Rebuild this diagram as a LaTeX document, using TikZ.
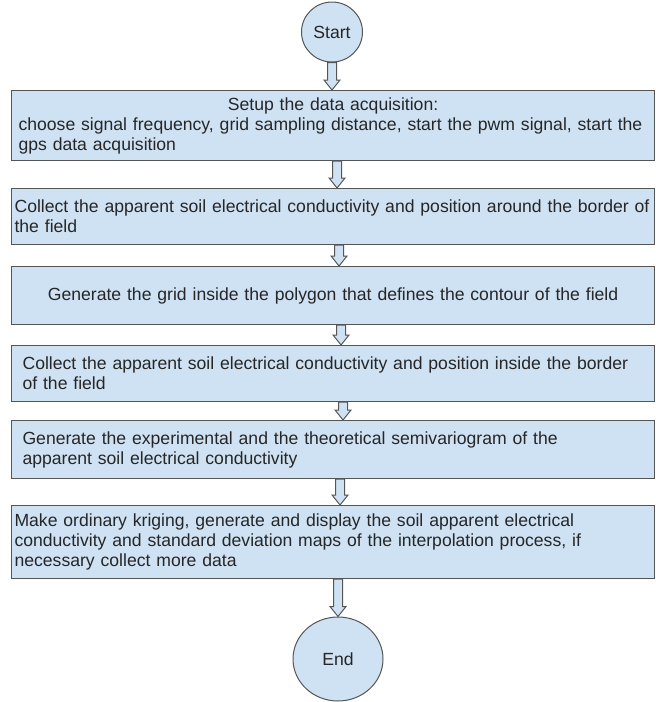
\documentclass[tikz,border=0pt]{standalone}
\usepackage{fontspec}
\setmainfont{Liberation Sans}
\usetikzlibrary{calc,shapes.geometric}
\definecolor{boxfill}{HTML}{CFE2F3}
\definecolor{boxline}{HTML}{555555}
\definecolor{txt}{HTML}{262626}
\begin{document}
\begin{tikzpicture}[x=1pt,y=-1pt,
  box/.style={draw=boxline, fill=boxfill, line width=1.1pt, rectangle,
    minimum width=643pt, anchor=north west, inner ysep=0pt,
    text=txt, font=\fontsize{17.6}{20}\selectfont},
  term/.style={draw=boxline, fill=boxfill, line width=1pt, ellipse,
    inner sep=0pt, text=txt, font=\fontsize{17.6}{20}\selectfont},
  blockarrow/.style={draw=boxline, fill=boxfill, line width=1pt,
    to path={let \p1=(\tikztostart), \p2=(\tikztotarget) in
      (\x1-4.5pt,\y1) -- (\x1-4.5pt,\y2+10pt) -- (\x1-8pt,\y2+10pt) -- (\x1,\y2)
      -- (\x1+8pt,\y2+10pt) -- (\x1+4.5pt,\y2+10pt) -- (\x1+4.5pt,\y1) -- cycle}}]
\useasboundingbox (0,0) rectangle (656,702);

\node[term, minimum width=61pt, minimum height=60pt] (start) at (332,32) {Start};

\node[box, minimum height=70pt, inner xsep=7pt, text width=629pt, align=left] (b1) at (11,90)
  {\makebox[629pt][c]{Setup the data acquisition:}\\
   choose signal frequency, grid sampling distance, start the pwm signal, start the\\
   gps data acquisition};

\node[box, minimum height=56pt, inner xsep=3pt, text width=637pt, align=left] (b2) at (11,188)
  {Collect the apparent soil electrical conductivity and position around the border of\\
   the field};

\node[box, minimum height=58pt, inner xsep=3pt, text width=637pt, align=center] (b3) at (11,266)
  {Generate the grid inside the polygon that defines the contour of the field};

\node[box, minimum height=56pt, inner xsep=11pt, text width=621pt, align=left] (b4) at (11,345)
  {Collect the apparent soil electrical conductivity and position inside the border\\
   of the field};

\node[box, minimum height=58pt, inner xsep=11pt, text width=621pt, align=left] (b5) at (11,420)
  {Generate the experimental and the theoretical semivariogram of the\\
   apparent soil electrical conductivity};

\node[box, minimum height=73pt, inner xsep=3pt, text width=637pt, align=left] (b6) at (11,505)
  {Make ordinary kriging, generate and display the soil apparent electrical\\
   conductivity and standard deviation maps of the interpolation process, if\\
   necessary collect more data};

\node[term, minimum width=90pt, minimum height=84pt] (end) at (338,659) {End};

\draw[blockarrow] (start.south) to (b1.north -| start.south);
\draw[blockarrow] ([xshift=4pt]b1.south) to ([xshift=4pt]b2.north);
\draw[blockarrow] ([xshift=6pt]b2.south) to ([xshift=6pt]b3.north);
\draw[blockarrow] ([xshift=8pt]b3.south) to ([xshift=8pt]b4.north);
\draw[blockarrow] ([xshift=10pt]b4.south) to ([xshift=10pt]b5.north);
\draw[blockarrow] ([xshift=7pt]b5.south) to ([xshift=7pt]b6.north);
\draw[blockarrow] (b6.south -| end.north) to (end.north);
\end{tikzpicture}
\end{document}
